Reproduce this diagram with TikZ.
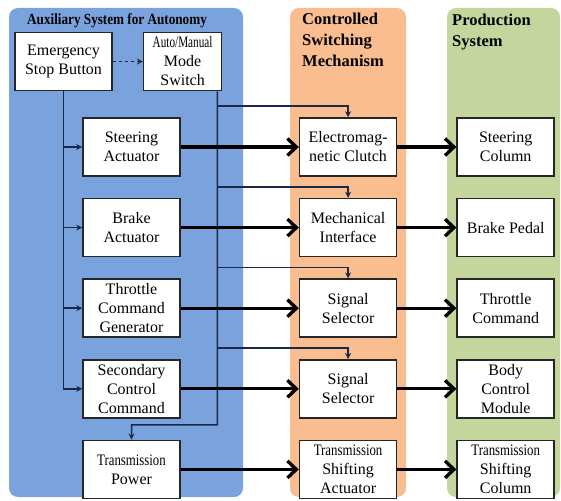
\documentclass[tikz,border=0pt]{standalone}
\usepackage{fontspec}
\setmainfont{Liberation Serif}
\usepackage{graphicx}
\usetikzlibrary{arrows.meta,positioning,calc}
\definecolor{autoblue}{RGB}{122, 163, 221}
\definecolor{switchorange}{RGB}{249, 189, 143}
\definecolor{prodgreen}{RGB}{196, 214, 158}
\definecolor{wirenavy}{RGB}{25, 40, 75}
\newcommand{\narrow}[2][0.8]{\scalebox{#1}[1]{#2}}

\begin{document}
\begin{tikzpicture}[
  x=1pt, y=1pt,
  node distance=21pt and 118pt,
  unit/.style={
    draw=black!85,
    fill=white,
    line width=1.6pt,
    minimum width=97pt,
    minimum height=58pt,
    inner sep=1pt,
    align=center,
    font=\fontsize{16}{19}\selectfont
  },
  panel/.style={rounded corners=9pt},
  heading/.style={
    font=\fontsize{16.5}{21}\selectfont\bfseries,
    align=left,
    anchor=north west,
    inner sep=0pt
  },
  ctrl/.style={draw=wirenavy, line width=1.5pt, -{Stealth[length=6pt,width=6pt]}},
  power/.style={draw=black, line width=3.3pt, -{Straight Barb[length=9pt,width=17pt]}}
]
  \useasboundingbox (0,0) rectangle (561,-500);

  % Background panels
  \fill[autoblue, panel] (9,-8) rectangle (243,-497);
  \fill[switchorange, panel] (290,-8) rectangle (406,-497);
  \fill[prodgreen, panel] (447,-8) rectangle (560,-497);

  \node[heading, font=\fontsize{15.5}{18}\selectfont\bfseries] (auxtitle) at (27,-13) {\narrow[0.85]{Auxiliary System for Autonomy}};
  \node[heading] (swtitle) at (302,-13) {Controlled\\Switching\\Mechanism};
  \node[heading] (prodtitle) at (452,-14) {Production\\System};

  % Auxiliary system
  \node[unit] (estop) at (63.5,-61.5) {Emergency\\Stop Button};
  \node[unit, minimum width=78pt, right=30pt of estop] (mode) {\narrow[0.7]{Auto/Manual}\\Mode\\Switch};

  \node[unit] (steer) at (131.5,-147) {Steering\\Actuator};
  \node[unit, below=of steer] (brake) {Brake\\Actuator};
  \node[unit, below=of brake] (throttle) {Throttle\\Command\\Generator};
  \node[unit, below=of throttle] (second) {Secondary\\Control\\Command};
  \node[unit, below=of second] (transp) {\narrow{Transmission}\\Power};

  % Controlled switching mechanism
  \node[unit, right=of steer] (clutch) {Electromag-\\netic Clutch};
  \node[unit, right=of brake] (mech) {Mechanical\\Interface};
  \node[unit, right=of throttle] (sel1) {Signal\\Selector};
  \node[unit, right=of second] (sel2) {Signal\\Selector};
  \node[unit, right=of transp] (shift) {\narrow{Transmission}\\Shifting\\Actuator};

  % Production system
  \node[unit, right=59pt of clutch] (column) {Steering\\Column};
  \node[unit, right=59pt of mech] (pedal) {Brake Pedal};
  \node[unit, right=59pt of sel1] (thrcmd) {Throttle\\Command};
  \node[unit, right=59pt of sel2] (bcm) {Body\\Control\\Module};
  \node[unit, right=59pt of shift] (shiftcol) {\narrow{Transmission}\\Shifting\\Column};

  % Emergency stop lines
  \draw[ctrl, dashed] (estop) -- (mode);
  \draw[ctrl] (estop.south) |- (second.west);
  \foreach \n in {steer,brake,throttle}
    \draw[ctrl] (estop.south |- \n.west) -- (\n.west);

  % Mode switch bus
  \coordinate (bus) at ([xshift=-5pt]mode.south east);
  \coordinate (busend) at ($(second.south)!0.3!(transp.north)$);
  \draw[ctrl] (bus) |- (busend) -- (transp.north);
  \foreach \n in {clutch,mech,sel1,sel2} {
    \coordinate (tap) at ([yshift=11pt]\n.north);
    \draw[ctrl] (bus |- tap) -| (\n.north);
  }

  % Actuation paths
  \foreach \a/\b/\c in {steer/clutch/column, brake/mech/pedal, throttle/sel1/thrcmd, second/sel2/bcm, transp/shift/shiftcol} {
    \draw[power] (\a) -- (\b);
    \draw[power] (\b) -- (\c);
  }

\end{tikzpicture}
\end{document}
